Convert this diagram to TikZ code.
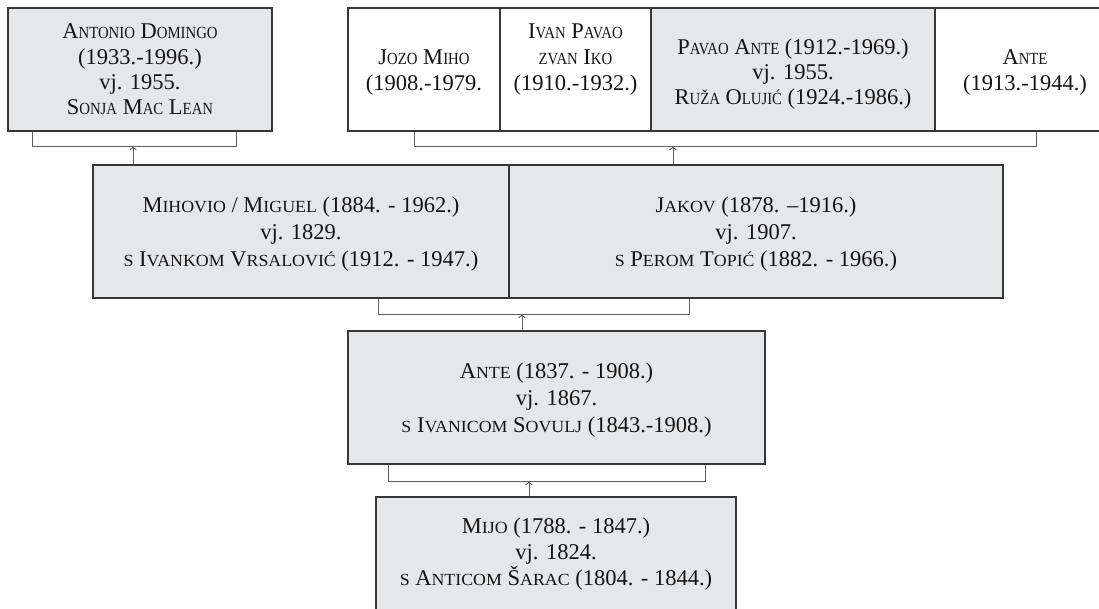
\documentclass[tikz,border=0pt]{standalone}
\usepackage{fontspec}
\setmainfont{Liberation Serif}
\newfontfamily\scnarrowfam[FakeStretch=0.87]{Liberation Serif}
\newfontfamily\scwidefam[FakeStretch=1.05]{Liberation Serif}
\usetikzlibrary{arrows.meta}
\newcommand\smna[1]{{\scnarrowfam\fontsize{17}{17}\selectfont #1}}
\newcommand\smwi[1]{{\scwidefam\fontsize{17}{17}\selectfont #1}}
\newcommand\tpad[1]{\rule{0pt}{#1}}
\newcommand\bpad[1]{\rule[-#1]{0pt}{0pt}}
\definecolor{boxgray}{RGB}{230,231,233}
\definecolor{edgecol}{RGB}{55,55,55}
\definecolor{linkcol}{RGB}{95,95,95}
\begin{document}
\begin{tikzpicture}[x=1pt,y=-1pt,
  person/.style={draw=edgecol, line width=1.2pt, align=center, inner sep=0pt, text=black!92},
  grayp/.style={person, fill=boxgray},
  whitep/.style={person, fill=white},
  toprow/.style={minimum height=123pt, font=\fontsize{22.5}{25.3}\selectfont},
  midrow/.style={minimum height=133pt, font=\fontsize{22.5}{27}\selectfont},
  bracket/.style={draw=linkcol, line width=1pt},
  uparrow/.style={draw=linkcol, line width=1pt, -{To[length=4pt,width=7pt]}}]
\useasboundingbox (0,0) rectangle (1099,608);

% top row
\node[grayp, toprow, minimum width=264pt] (antonio) at (140,69.5)
  {A\smna{NTONIO} D\smna{OMINGO}\\(1933.-1996.)\\vj. 1955.\\S\smna{ONJA} M\smna{AC} L\smna{EAN}};
\node[whitep, toprow, minimum width=152pt, font=\fontsize{22.5}{26}\selectfont] (jozo) at (424,69.5)
  {\tpad{21.2pt}J\smna{OZO} M\smna{IHO}\\(1908.-1979.};
\node[whitep, toprow, minimum width=151pt, font=\fontsize{22.5}{26}\selectfont] (ivan) at (575.5,69.5)
  {I\smna{VAN} P\smna{AVAO}\\\smna{ZVAN} I\smna{KO}\\(1910.-1932.)\bpad{24pt}};
\node[grayp, toprow, minimum width=284pt, font=\fontsize{22.5}{25.3}\selectfont] (pavao) at (793,69.5)
  {\tpad{25pt}P\smna{AVAO} A\smna{NTE} (1912.-1969.)\\vj. 1955.\\R\smna{UŽA} O\smna{LUJIĆ} (1924.-1986.)};
\node[whitep, toprow, minimum width=180pt, font=\fontsize{22.5}{26}\selectfont] (antetop) at (1025,69.5)
  {\tpad{21.2pt}A\smna{NTE}\\(1913.-1944.)};

% middle row
\node[grayp, midrow, minimum width=416pt] (mihovio) at (301,231.5)
  {\tpad{21pt}M\smwi{IHOVIO} / M\smwi{IGUEL} (1884. - 1962.)\\vj. 1829.\\\smwi{S} I\smwi{VANKOM} V\smwi{RSALOVIĆ} (1912. - 1947.)};
\node[grayp, midrow, minimum width=494pt] (jakov) at (756,231.5)
  {\tpad{21pt}J\smwi{AKOV} (1878. –1916.)\\vj. 1907.\\\smwi{S} P\smwi{EROM} T\smwi{OPIĆ} (1882. - 1966.)};

% lower rows
\node[grayp, midrow, minimum width=417pt] (ante) at (556.5,397.5)
  {\tpad{21pt}A\smwi{NTE} (1837. - 1908.)\\vj. 1867.\\\smwi{S} I\smwi{VANICOM} S\smwi{OVULJ} (1843.-1908.)};
\node[grayp, midrow, minimum height=115pt, minimum width=360pt, font=\fontsize{22.5}{26}\selectfont] (mijo) at (556,554.5)
  {M\smwi{IJO} (1788. - 1847.)\\vj. 1824.\\\smwi{S} A\smwi{NTICOM} Š\smwi{ARAC} (1804. - 1844.)};

% brackets and arrows
\coordinate (ka1) at (32,146);  \coordinate (ka2) at (236,146); \coordinate (pa) at (133,146);
\coordinate (kb1) at (414,146); \coordinate (kb2) at (1036,146); \coordinate (pb) at (673,146);
\coordinate (kc1) at (378,314); \coordinate (kc2) at (689,314); \coordinate (pc) at (522,314);
\coordinate (kd1) at (388,481); \coordinate (kd2) at (705,481); \coordinate (pd) at (529,481);

\draw[bracket] (antonio.south -| ka1) -- (ka1) -- (ka2) -- (antonio.south -| ka2);
\draw[uparrow] (mihovio.north -| pa) -- (pa);
\draw[bracket] (jozo.south -| kb1) -- (kb1) -- (kb2) -- (antetop.south -| kb2);
\draw[uparrow] (jakov.north -| pb) -- (pb);
\draw[bracket] (mihovio.south -| kc1) -- (kc1) -- (kc2) -- (jakov.south -| kc2);
\draw[uparrow] (ante.north -| pc) -- (pc);
\draw[bracket] (ante.south -| kd1) -- (kd1) -- (kd2) -- (ante.south -| kd2);
\draw[uparrow] (mijo.north -| pd) -- (pd);
\end{tikzpicture}
\end{document}
